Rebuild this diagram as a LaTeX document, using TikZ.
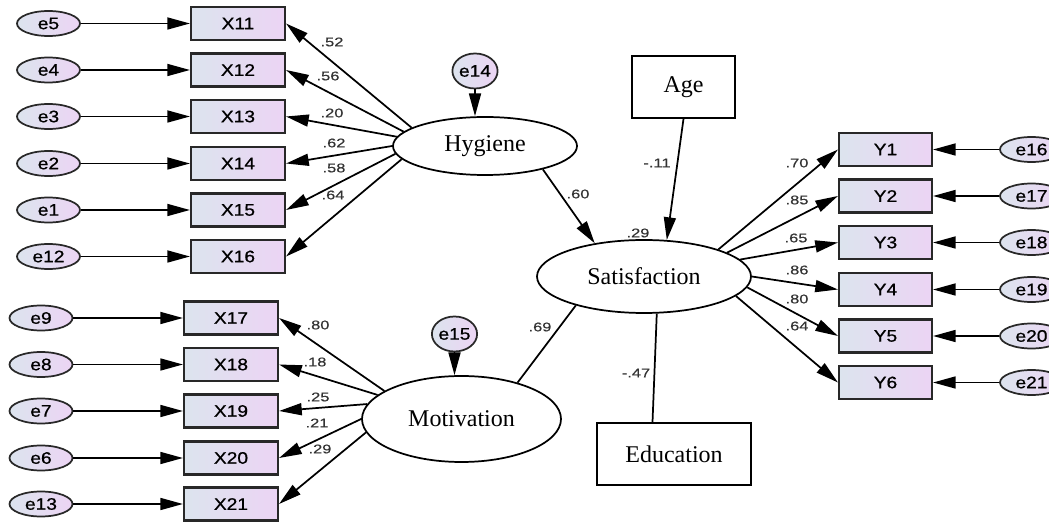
\documentclass[tikz,border=0pt]{standalone}
\usepackage{fontspec}
\setmainfont{Liberation Serif}
\newfontfamily\boxfont[FakeStretch=1.15,FakeBold=0.8]{Liberation Sans}
\newfontfamily\labfont[FakeStretch=1.3,FakeBold=0.5]{Liberation Sans}
\usetikzlibrary{shapes.geometric,arrows.meta}
\definecolor{gl}{RGB}{220,228,238}
\definecolor{gr}{RGB}{236,212,244}
\definecolor{bd}{RGB}{40,40,40}
\def\PX{0.75pt}
\tikzset{
  errnode/.style={ellipse,draw=bd,line width=1.3pt,left color=gl,right color=gr,
    minimum width=63*\PX,minimum height=25*\PX,inner sep=0pt,
    font=\boxfont\fontsize{12.5}{14}\selectfont},
  errcirc/.style={ellipse,draw=bd,line width=1.3pt,left color=gl,right color=gr,
    minimum width=43*\PX,minimum height=35*\PX,inner sep=0pt,
    font=\boxfont\fontsize{12.5}{14}\selectfont},
  obsbox/.style={rectangle,draw=bd,line width=1.6pt,left color=gl,right color=gr,
    minimum width=94*\PX,minimum height=33*\PX,inner sep=0pt,
    font=\boxfont\fontsize{12.5}{14}\selectfont},
  latent/.style={ellipse,draw=black,line width=1.3pt,fill=white,inner sep=0pt,
    font=\fontsize{18}{20}\selectfont},
  covbox/.style={rectangle,draw=black,line width=1.3pt,fill=white,inner sep=0pt,
    font=\fontsize{18}{20}\selectfont},
  lab/.style={inner sep=0pt,font=\labfont\fontsize{9.5}{11}\selectfont,text=black!80},
  arr/.style={line width=1.3pt,-{Triangle[length=17pt,width=9pt]}},
  plain/.style={line width=1.3pt}
}
\begin{document}
\begin{tikzpicture}[x=0.75pt,y=-0.75pt]
\useasboundingbox (0,0) rectangle (1049,523);
\clip (0,0) rectangle (1049,523);

% latent variables
\node[latent,minimum width=184*\PX,minimum height=58*\PX] (hyg) at (485,146) {Hygiene};
\node[latent,minimum width=214*\PX,minimum height=73*\PX] (sat) at (644,276.5) {Satisfaction};
\node[latent,minimum width=199*\PX,minimum height=86*\PX] (mot) at (461.5,419) {Motivation};

% covariates
\node[covbox,minimum width=103*\PX,minimum height=62*\PX] (age) at (683.5,87) {Age};
\node[covbox,minimum width=154*\PX,minimum height=62*\PX] (edu) at (674,454) {Education};

% disturbance terms
\node[errcirc] (e14) at (475,71) {e14};
\node[errcirc] (e15) at (454.5,334) {e15};

% Hygiene indicators
\node[obsbox] (x11) at (238,23.5) {X11};
\node[obsbox] (x12) at (238,70) {X12};
\node[obsbox] (x13) at (238,116.5) {X13};
\node[obsbox] (x14) at (238,163.5) {X14};
\node[obsbox] (x15) at (238,210) {X15};
\node[obsbox] (x16) at (238,256.5) {X16};
\node[errnode] (e5) at (48.5,23.5) {e5};
\node[errnode] (e4) at (48.5,70) {e4};
\node[errnode] (e3) at (48.5,116.5) {e3};
\node[errnode] (e2) at (48.5,163.5) {e2};
\node[errnode] (e1) at (48.5,210) {e1};
\node[errnode] (e12) at (48.5,256.5) {e12};

% Motivation indicators
\node[obsbox] (x17) at (231,318) {X17};
\node[obsbox] (x18) at (231,364.5) {X18};
\node[obsbox] (x19) at (231,411) {X19};
\node[obsbox] (x20) at (231,458) {X20};
\node[obsbox] (x21) at (231,504) {X21};
\node[errnode] (e9) at (41,318) {e9};
\node[errnode] (e8) at (41,364.5) {e8};
\node[errnode] (e7) at (41,411) {e7};
\node[errnode] (e6) at (41,458) {e6};
\node[errnode] (e13) at (41,504) {e13};

% Satisfaction indicators
\node[obsbox,minimum width=93*\PX] (y1) at (885.5,149.5) {Y1};
\node[obsbox,minimum width=93*\PX] (y2) at (885.5,196) {Y2};
\node[obsbox,minimum width=93*\PX] (y3) at (885.5,242.5) {Y3};
\node[obsbox,minimum width=93*\PX] (y4) at (885.5,289.5) {Y4};
\node[obsbox,minimum width=93*\PX] (y5) at (885.5,336) {Y5};
\node[obsbox,minimum width=93*\PX] (y6) at (885.5,382.5) {Y6};
\node[errnode] (e16) at (1031.5,149.5) {e16};
\node[errnode] (e17) at (1031.5,196) {e17};
\node[errnode] (e18) at (1031.5,242.5) {e18};
\node[errnode] (e19) at (1031.5,289.5) {e19};
\node[errnode] (e20) at (1031.5,336) {e20};
\node[errnode] (e21) at (1031.5,382.5) {e21};

% error arrows
\foreach \e/\x in {e5/x11,e4/x12,e3/x13,e2/x14,e1/x15,e12/x16,e9/x17,e8/x18,e7/x19,e6/x20,e13/x21,e16/y1,e17/y2,e18/y3,e19/y4,e20/y5,e21/y6}
  \draw[arr] (\e) -- (\x);
\draw[arr] (e14.south) -- (e14.south |- hyg.north);
\draw[arr] (e15.south) -- (e15.south |- mot.north);

% loadings
\draw[arr] (hyg.166.5) -- (x11.east);
\draw[arr] (hyg.170.3) -- (x12.east);
\draw[arr] (hyg.174) -- (x13.east);
\draw[arr] (hyg.180) -- (x14.east);
\draw[arr] (hyg.185) -- (x15.east);
\draw[arr] (hyg.189) -- (x16.east);

\draw[arr] (mot.160) -- (x17.east);
\draw[arr] (mot.164) -- (x18.east);
\draw[arr] (mot.171) -- (x19.east);
\draw[arr] (mot.180) -- (x20.east);
\draw[arr] (mot.188) -- (x21.east);

\draw[arr] (sat.20.8) -- (y1.west);
\draw[arr] (sat.16.1) -- (y2.west);
\draw[arr] (sat.10.1) -- (y3.west);
\draw[arr] (sat.0.8) -- (y4.west);
\draw[arr] (sat.-6.4) -- (y5.west);
\draw[arr] (sat.-12.7) -- (y6.west);

% structural paths
\draw[arr] (hyg.338) -- (sat.146.7);
\draw[arr] (age.south) -- (sat.58.8);
\draw[plain] (mot.33.7) -- (sat.203.4);
\draw[plain] (edu.124) -- (sat.289.6);

% labels
\node[lab] (l52) at (332,42) {.52};
\node[lab] (l56) at (328,76) {.56};
\node[lab] (l20) at (332,113) {.20};
\node[lab] (l62) at (334,143) {.62};
\node[lab] (l58) at (334,168) {.58};
\node[lab] (l64a) at (333,195) {.64};

\node[lab] (l80a) at (318,325) {.80};
\node[lab] (l18) at (315,362) {.18};
\node[lab] (l25) at (318,397) {.25};
\node[lab] (l21) at (317,423) {.21};
\node[lab] (l29a) at (320,449) {.29};

\node[lab] (l70) at (797,163) {.70};
\node[lab] (l85) at (797,200) {.85};
\node[lab] (l65) at (796,238) {.65};
\node[lab] (l86) at (797,270) {.86};
\node[lab] (l80b) at (797,299) {.80};
\node[lab] (l64b) at (797,326) {.64};

\node[lab] (l60) at (578,194) {.60};
\node[lab] (l11) at (657,163) {-.11};
\node[lab] (l29b) at (638,233) {.29};
\node[lab] (l69) at (540,327) {.69};
\node[lab] (l47) at (636,373) {-.47};
\end{tikzpicture}
\end{document}
